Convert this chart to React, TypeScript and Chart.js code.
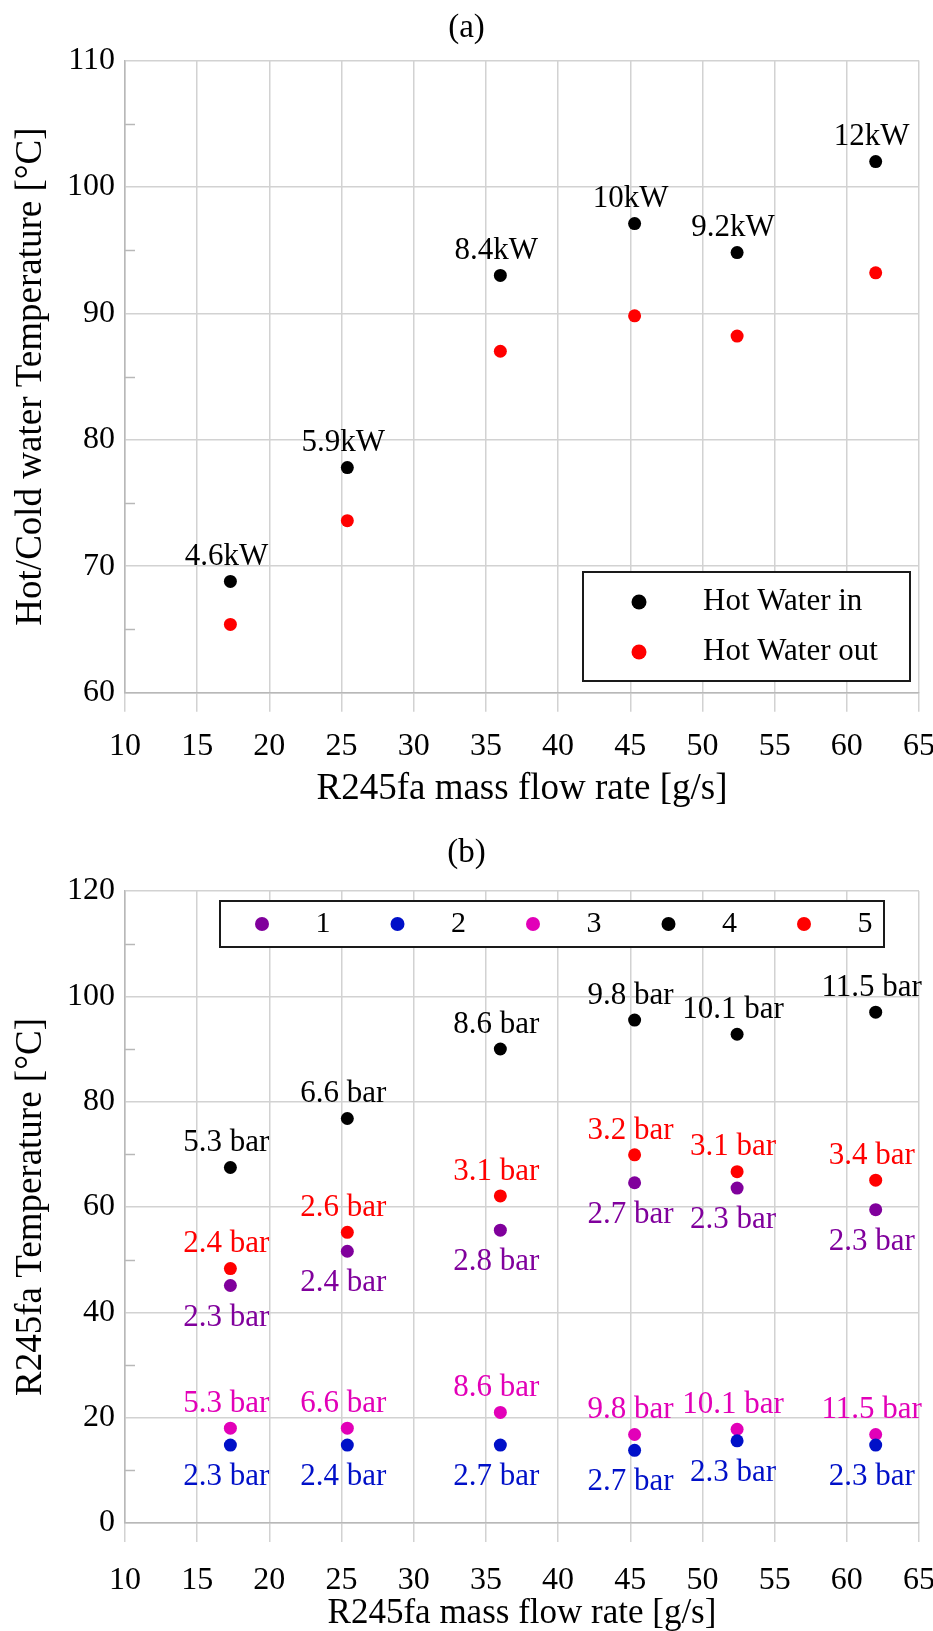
import React, { useEffect, useRef } from 'react';
import { Chart, registerables } from 'chart.js';

Chart.register(...registerables);

const FONT = "'Liberation Serif', 'Times New Roman', serif";

// ---------- (a) data ----------
const flowRates = [17.3, 25.4, 36.0, 45.3, 52.4, 62.0];
const hotWaterIn = [68.8, 77.8, 93.0, 97.1, 94.8, 102.0];
const hotWaterOut = [65.4, 73.6, 87.0, 89.8, 88.2, 93.2];
const powerLabels = ['4.6kW', '5.9kW', '8.4kW', '10kW', '9.2kW', '12kW'];
const seriesNamesA = ['Hot Water in', 'Hot Water out'];

// ---------- (b) data ----------
const state1 = [45.1, 51.6, 55.6, 64.6, 63.6, 59.5];
const state2 = [14.8, 14.8, 14.8, 13.8, 15.6, 14.8];
const state3 = [18.0, 18.0, 21.0, 16.8, 17.8, 16.8];
const state4 = [67.5, 76.8, 90.0, 95.5, 92.8, 97.0];
const state5 = [48.3, 55.2, 62.1, 69.9, 66.7, 65.1];
const pressure1 = ['2.3 bar', '2.4 bar', '2.8 bar', '2.7 bar', '2.3 bar', '2.3 bar'];
const pressure2 = ['2.3 bar', '2.4 bar', '2.7 bar', '2.7 bar', '2.3 bar', '2.3 bar'];
const pressure3 = ['5.3 bar', '6.6 bar', '8.6 bar', '9.8 bar', '10.1 bar', '11.5 bar'];
const pressure4 = ['5.3 bar', '6.6 bar', '8.6 bar', '9.8 bar', '10.1 bar', '11.5 bar'];
const pressure5 = ['2.4 bar', '2.6 bar', '3.1 bar', '3.2 bar', '3.1 bar', '3.4 bar'];
const seriesNamesB = ['1', '2', '3', '4', '5'];

const xTicks = { min: 10, max: 65, step: 5 };
const yTicksA = { min: 60, max: 110, step: 10, minor: [65, 75, 85, 95, 105] };
const yTicksB = { min: 0, max: 120, step: 20, minor: [10, 30, 50, 70, 90, 110] };

const C_BLACK = '#000000';
const C_RED = '#ff0000';
const C_PURPLE = '#80009c';
const C_BLUE = '#0010c8';
const C_MAGENTA = '#e200b8';

const GRID = '#d2d2d2';
const AXIS = '#b8b8b8';

const TICK_SIZE = 32;

const toPts = (ys: number[]) => ys.map((y, i) => ({ x: flowRates[i], y }));

const pointLabelsPlugin = {
  id: 'pointLabels',
  afterDatasetsDraw(chart: any) {
    const ctx = chart.ctx;
    chart.data.datasets.forEach((ds: any, di: number) => {
      if (!ds.pointTexts) return;
      const meta = chart.getDatasetMeta(di);
      ctx.save();
      ctx.font = `31px ${FONT}`;
      ctx.fillStyle = ds.backgroundColor;
      ctx.textAlign = 'center';
      ctx.textBaseline = 'middle';
      meta.data.forEach((el: any, i: number) => {
        const dy = ds.pointTextPos === 'below' ? 32 : -24.5;
        ctx.fillText(ds.pointTexts[i], el.x - 4, el.y + dy);
      });
      ctx.restore();
    });
  },
};

const minorTicksPlugin = {
  id: 'minorTicks',
  afterDraw(chart: any, _args: any, opts: any) {
    if (!opts || !opts.values) return;
    const ctx = chart.ctx;
    const y = chart.scales.y;
    const left = chart.chartArea.left;
    ctx.save();
    ctx.strokeStyle = AXIS;
    ctx.lineWidth = 1.5;
    opts.values.forEach((v: number) => {
      const py = Math.round(y.getPixelForValue(v)) + 0.5;
      ctx.beginPath();
      ctx.moveTo(left, py);
      ctx.lineTo(left + 10, py);
      ctx.stroke();
    });
    ctx.restore();
  },
};

const boxLegendPlugin = {
  id: 'boxLegend',
  afterDraw(chart: any, _args: any, opts: any) {
    if (!opts || !opts.box) return;
    const ctx = chart.ctx;
    const b = opts.box;
    ctx.save();
    ctx.fillStyle = '#ffffff';
    ctx.fillRect(b.x, b.y, b.w, b.h);
    ctx.strokeStyle = '#1a1a1a';
    ctx.lineWidth = 2;
    ctx.strokeRect(b.x, b.y, b.w, b.h);
    ctx.font = `${opts.fontSize}px ${FONT}`;
    ctx.textBaseline = 'middle';
    chart.data.datasets.forEach((ds: any, i: number) => {
      const it = opts.items[i];
      ctx.fillStyle = ds.backgroundColor;
      ctx.beginPath();
      ctx.arc(it.x, it.y, opts.r, 0, Math.PI * 2);
      ctx.fill();
      ctx.fillStyle = '#000000';
      ctx.textAlign = opts.textAlign;
      ctx.fillText(ds.label, it.tx, it.y);
    });
    ctx.restore();
  },
};

function makeOptions(yT: any, yTitle: string, title: string, xPad: number, xTitleSize: number, xTitlePad: number, titlePadBottom: number, legend: any, xHeight: number) {
  return {
    responsive: false,
    animation: false,
    layout: { padding: { left: 0, right: 0, top: 0, bottom: 0 } },
    plugins: {
      legend: { display: false },
      tooltip: { enabled: false },
      title: {
        display: true,
        text: title,
        color: '#000',
        font: { family: FONT, size: 33, weight: 'normal', lineHeight: 1.2 },
        padding: { top: 8.2, bottom: titlePadBottom },
      },
      minorTicks: { values: yT.minor },
      boxLegend: legend,
    },
    scales: {
      x: {
        type: 'linear',
        min: xTicks.min,
        max: xTicks.max,
        afterFit: (s: any) => { s.height = xHeight; s.paddingLeft = 0; s.paddingRight = 14; },
        ticks: { stepSize: xTicks.step, color: '#000', padding: xPad, font: { family: FONT, size: TICK_SIZE }, maxRotation: 0 },
        grid: { color: GRID, lineWidth: 1.5, drawTicks: true, tickLength: 19, tickColor: GRID },
        border: { display: true, color: AXIS, width: 1.5 },
        title: {
          display: true,
          text: 'R245fa mass flow rate [g/s]',
          color: '#000',
          font: { family: FONT, size: xTitleSize },
          padding: { top: 0, bottom: xTitlePad },
        },
      },
      y: {
        type: 'linear',
        min: yT.min,
        max: yT.max,
        afterFit: (s: any) => { s.width = 125; },
        ticks: { stepSize: yT.step, color: '#000', padding: 10, font: { family: FONT, size: TICK_SIZE } },
        grid: { color: GRID, lineWidth: 1.5, drawTicks: false },
        border: { display: true, color: AXIS, width: 1.5 },
        title: {
          display: true,
          text: yTitle,
          color: '#000',
          font: { family: FONT, size: 37 },
          padding: { top: 8.8, bottom: 0 },
        },
      },
    },
  };
}

function ChartA() {
  const ref = useRef<HTMLCanvasElement>(null);
  useEffect(() => {
    const chart = new Chart(ref.current as HTMLCanvasElement, {
      type: 'scatter',
      data: {
        datasets: [
          { label: seriesNamesA[0], data: toPts(hotWaterIn), backgroundColor: C_BLACK, borderWidth: 0, pointRadius: 6.5, pointTexts: powerLabels, pointTextPos: 'above' } as any,
          { label: seriesNamesA[1], data: toPts(hotWaterOut), backgroundColor: C_RED, borderWidth: 0, pointRadius: 6.5 } as any,
        ],
      },
      options: makeOptions(yTicksA, 'Hot/Cold water Temperature [°C]', '(a)', 16, 37, 13.6, 12.6, {
        box: { x: 583, y: 572, w: 327, h: 109 },
        r: 7.5,
        fontSize: 31,
        textAlign: 'left',
        items: [
          { x: 639, y: 602, tx: 703 },
          { x: 639, y: 652, tx: 703 },
        ],
      }, 132.3) as any,
      plugins: [pointLabelsPlugin, minorTicksPlugin, boxLegendPlugin],
    });
    return () => chart.destroy();
  }, []);
  return <canvas ref={ref} width={933} height={825} style={{ display: 'block' }} />;
}

function ChartB() {
  const ref = useRef<HTMLCanvasElement>(null);
  useEffect(() => {
    const mk = (i: number, ys: number[], color: string, texts: string[], pos: string) => ({
      label: seriesNamesB[i], data: toPts(ys), backgroundColor: color, borderWidth: 0, pointRadius: 6.5, pointTexts: texts, pointTextPos: pos,
    });
    const chart = new Chart(ref.current as HTMLCanvasElement, {
      type: 'scatter',
      data: {
        datasets: [
          mk(0, state1, C_PURPLE, pressure1, 'below'),
          mk(1, state2, C_BLUE, pressure2, 'below'),
          mk(2, state3, C_MAGENTA, pressure3, 'above'),
          mk(3, state4, C_BLACK, pressure4, 'above'),
          mk(4, state5, C_RED, pressure5, 'above'),
        ] as any,
      },
      options: makeOptions(yTicksB, 'R245fa Temperature [°C]', '(b)', 19, 35, -4, 18.2, {
        box: { x: 220, y: 76, w: 664, h: 46 },
        r: 7,
        fontSize: 30,
        textAlign: 'center',
        items: [0, 1, 2, 3, 4].map((i) => ({ x: 262 + i * 135.5, y: 99, tx: 323 + i * 135.5 })),
      }, 108) as any,
      plugins: [pointLabelsPlugin, minorTicksPlugin, boxLegendPlugin],
    });
    return () => chart.destroy();
  }, []);
  return <canvas ref={ref} width={933} height={806} style={{ display: 'block' }} />;
}

export default function App() {
  return (
    <div style={{ position: 'absolute', left: 0, top: 0, width: 933, background: '#fff' }}>
      <ChartA />
      <ChartB />
    </div>
  );
}
